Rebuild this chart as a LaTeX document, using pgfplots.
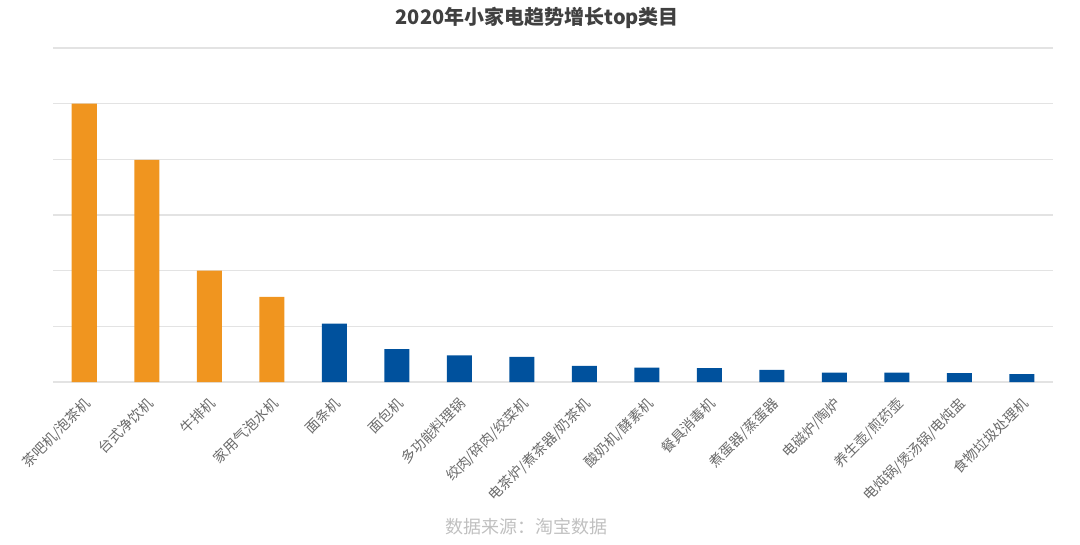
\documentclass[border=0pt]{standalone}
\usepackage{fontspec}
\setmainfont{Noto Sans CJK SC}
\usepackage{pgfplots}
\pgfplotsset{compat=1.18}
\definecolor{barorange}{HTML}{F0951F}
\definecolor{barblue}{HTML}{00519D}
\definecolor{gridgray}{HTML}{E3E3E3}
\definecolor{labelgray}{HTML}{6A6A6A}
\definecolor{titlegray}{HTML}{404040}
\definecolor{srcgray}{HTML}{C0C0C0}
\begin{document}
\begin{tikzpicture}
\begin{axis}[
    scale only axis,
    width=750pt, height=250.5pt,
    at={(39.75pt,121.5pt)}, anchor=south west,
    xmin=-0.5, xmax=15.5, ymin=0, ymax=6,
    ytick={0,1,...,6}, yticklabels={},
    ymajorgrids, grid style={gridgray, line width=0.9pt},
    axis line style={draw=none},
    major tick length=0pt,
    xtick={0,1,...,15},
    xticklabels={茶吧机/泡茶机,台式净饮机,牛排机,家用气泡水机,面条机,面包机,多功能料理锅,绞肉/碎肉/绞菜机,电茶炉/煮茶器/奶茶机,酸奶机/酵素机,餐具消毒机,煮蛋器/蒸蛋器,电磁炉/陶炉,养生壶/煎药壶,电炖锅/煲汤锅/电炖盅,食物垃圾处理机},
    xticklabel style={rotate=45, anchor=north east, font=\fontsize{10.5}{12}\selectfont, text=labelgray, inner sep=1pt, xshift=-7pt, yshift=-6pt},
    ybar, bar width=18.75pt,
]
\addplot[fill=barorange, draw=none, bar shift=0pt] coordinates {
    (0,5.00) (1,3.99) (2,2.00) (3,1.53)
};
\addplot[fill=barblue, draw=none, bar shift=0pt] coordinates {
    (4,1.05) (5,0.59) (6,0.48) (7,0.45) (8,0.29) (9,0.26) (10,0.25)
    (11,0.22) (12,0.17) (13,0.17) (14,0.16) (15,0.14)
};
\end{axis}
\node[font=\bfseries\fontsize{15}{18}\selectfont, text=titlegray] at (403pt,394.5pt) {2020年小家电趋势增长top类目};
\node[font=\fontsize{13.5}{16}\selectfont, text=srcgray] at (394.5pt,12.75pt) {数据来源：淘宝数据};
\pgfresetboundingbox
\useasboundingbox (0,0) rectangle (810pt,408pt);
\end{tikzpicture}
\end{document}
